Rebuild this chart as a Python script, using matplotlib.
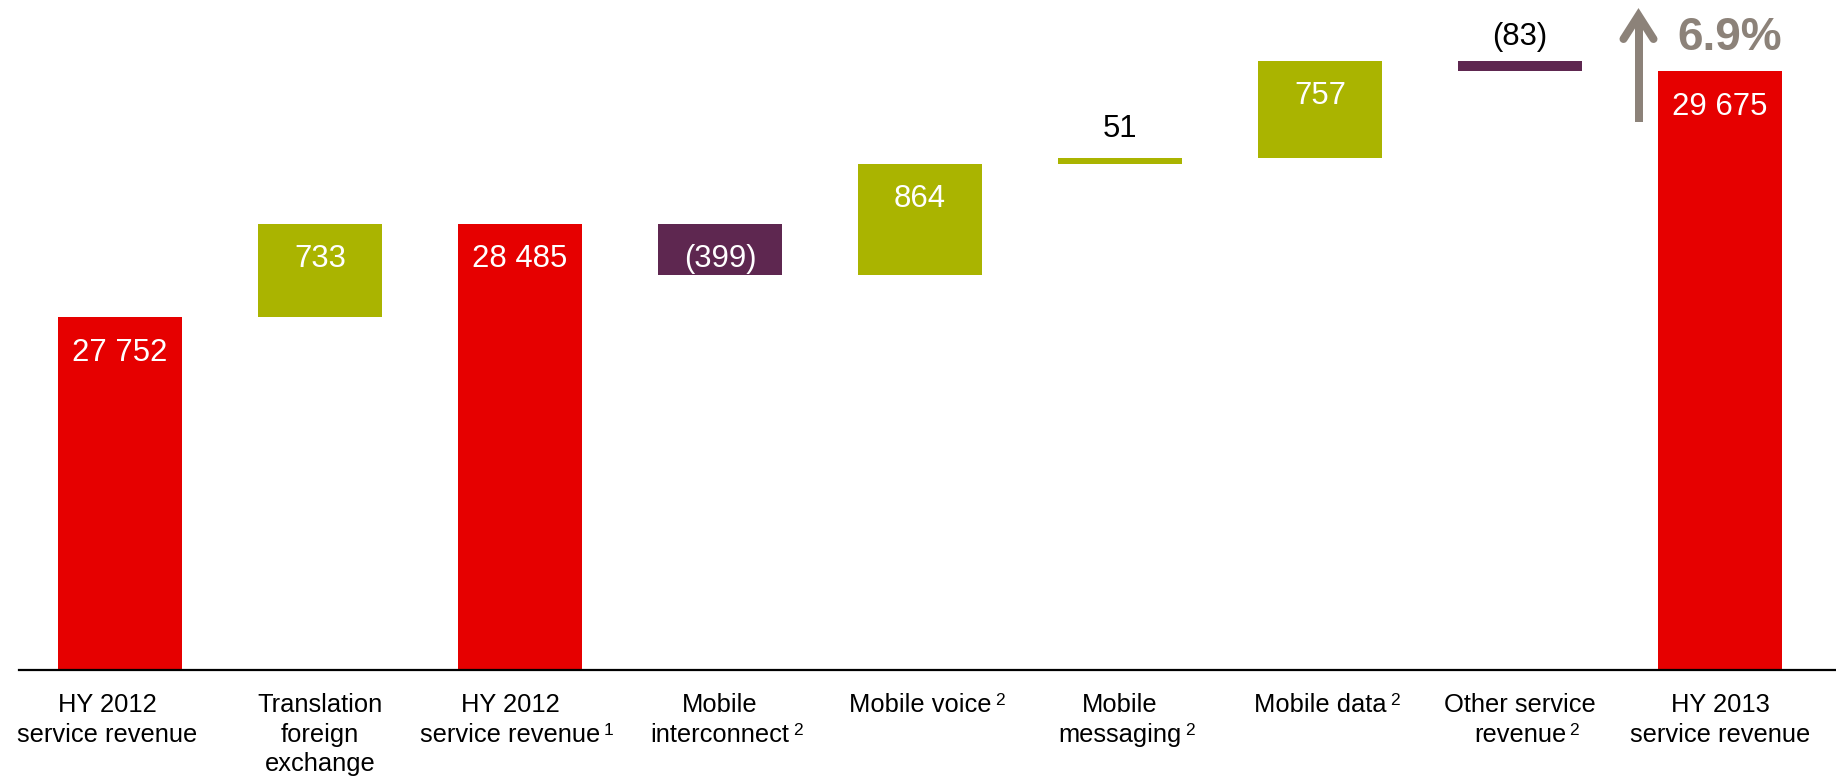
import matplotlib
matplotlib.use("Agg")
import matplotlib.pyplot as plt
import matplotlib.transforms as mtransforms
from matplotlib.lines import Line2D

plt.rcParams["font.family"] = ["Liberation Sans", "DejaVu Sans"]

# ---- data -------------------------------------------------------------
category_lines = [
    ["HY 2012", "service revenue"],
    ["Translation", "foreign", "exchange"],
    ["HY 2012", "service revenue"],
    ["Mobile", "interconnect"],
    ["Mobile voice"],
    ["Mobile", "messaging"],
    ["Mobile data"],
    ["Other service", "revenue"],
    ["HY 2013", "service revenue"],
]
footnotes = ["", "", "1", "2", "2", "2", "2", "2", ""]
values = [27752, 733, 28485, -399, 864, 51, 757, -83, 29675]
kinds = ["total", "delta", "total", "delta", "delta", "delta", "delta", "delta", "total"]

# ---- style ------------------------------------------------------------
RED = "#E60000"
GREEN = "#AAB400"
PURPLE = "#5E2750"
GREY = "#8C8279"

W, H, DPI = 1836, 777, 100
AXIS_Y_PX = 669.7          # baseline position, pixels from top
PX_PER_UNIT = 0.128        # vertical scale
COL_PX = 200.0             # column pitch
FIRST_COL_PX = 120.0       # centre of the first column
BASE = 25000               # value at the baseline

label_shift_px = [-13, 0, -10, 0, 0, 0, 0, 0, 0]
above_gap_px = {5: 21, 7: 16}

fig = plt.figure(figsize=(W / DPI, H / DPI), dpi=DPI)
ax_left = 19 / W
ax_bottom = (H - AXIS_Y_PX) / H
ax = fig.add_axes([ax_left, ax_bottom, 1 - ax_left, AXIS_Y_PX / H])

x0 = -(FIRST_COL_PX - 19) / COL_PX
x1 = (W - FIRST_COL_PX) / COL_PX
ax.set_xlim(x0, x1)
ax.set_ylim(BASE, BASE + AXIS_Y_PX / PX_PER_UNIT)

for side in ("top", "right", "left"):
    ax.spines[side].set_visible(False)
ax.spines["bottom"].set_linewidth(1.6)
ax.spines["bottom"].set_color("black")
ax.set_xticks([])
ax.set_yticks([])

# ---- waterfall geometry ----------------------------------------------
bottoms, heights, colors = [], [], []
running = 0
for v, k in zip(values, kinds):
    if k == "total":
        bottoms.append(BASE)
        heights.append(v - BASE)
        colors.append(RED)
        running = v
    else:
        if v >= 0:
            bottoms.append(running)
            heights.append(v)
            colors.append(GREEN)
        else:
            bottoms.append(running + v)
            heights.append(-v)
            colors.append(PURPLE)
        running += v

xs = list(range(len(values)))
ax.bar(xs, heights, bottom=bottoms, width=124 / COL_PX, color=colors,
       linewidth=0, zorder=1)


def fmt(v):
    s = f"{abs(v):,}".replace(",", " ")
    return f"({s})" if v < 0 else s


PT_PER_PX = 72 / DPI
for i, (v, k) in enumerate(zip(values, kinds)):
    top = bottoms[i] + heights[i]
    if k == "delta" and abs(v) < 200:
        ax.annotate(fmt(v), xy=(i, top), xytext=(0, above_gap_px.get(i, 18) * PT_PER_PX),
                    textcoords="offset points", ha="center", va="baseline",
                    fontsize=22.4, color="black")
    else:
        ax.annotate(fmt(v), xy=(i, top), xytext=(0, -43.3 * PT_PER_PX),
                    textcoords="offset points", ha="center", va="baseline",
                    fontsize=22.4, color="white")

# ---- category labels -------------------------------------------------
px_from_top = mtransforms.Affine2D().scale(1, -1).translate(0, H)
label_tf = mtransforms.blended_transform_factory(ax.transData, px_from_top)
line_baselines = [711.7, 741.7, 771.5]

for i, lines in enumerate(category_lines):
    xc = i + label_shift_px[i] / COL_PX
    last = None
    for j, line in enumerate(lines):
        last = ax.text(xc, line_baselines[j], line, transform=label_tf,
                       ha="center", va="baseline", fontsize=18.4, color="black",
                       clip_on=False)
    if footnotes[i]:
        ax.annotate(footnotes[i], xy=(1, 1), xycoords=last,
                    xytext=(3.5 * PT_PER_PX, 0), textcoords="offset points",
                    ha="left", va="top", fontsize=12.5, color="black",
                    annotation_clip=False)

# ---- growth arrow and percentage -------------------------------------
lw = 8 * PT_PER_PX
shaft = Line2D([1638.5, 1638.5], [121.7, 16], transform=px_from_top,
               color=GREY, linewidth=lw, solid_capstyle="butt")
head = Line2D([1623.5, 1638.5, 1653.5], [39, 15.5, 39], transform=px_from_top,
              color=GREY, linewidth=lw, solid_capstyle="round",
              solid_joinstyle="miter")
fig.add_artist(shaft)
fig.add_artist(head)

growth = (values[-1] - values[0]) / values[0] * 100
fig.text(1677 / W, 1 - 50 / H, f"{growth:.1f}%", ha="left", va="baseline",
         fontsize=33, fontweight="bold", color=GREY)

fig.savefig("out.png", dpi=DPI, facecolor="white")
